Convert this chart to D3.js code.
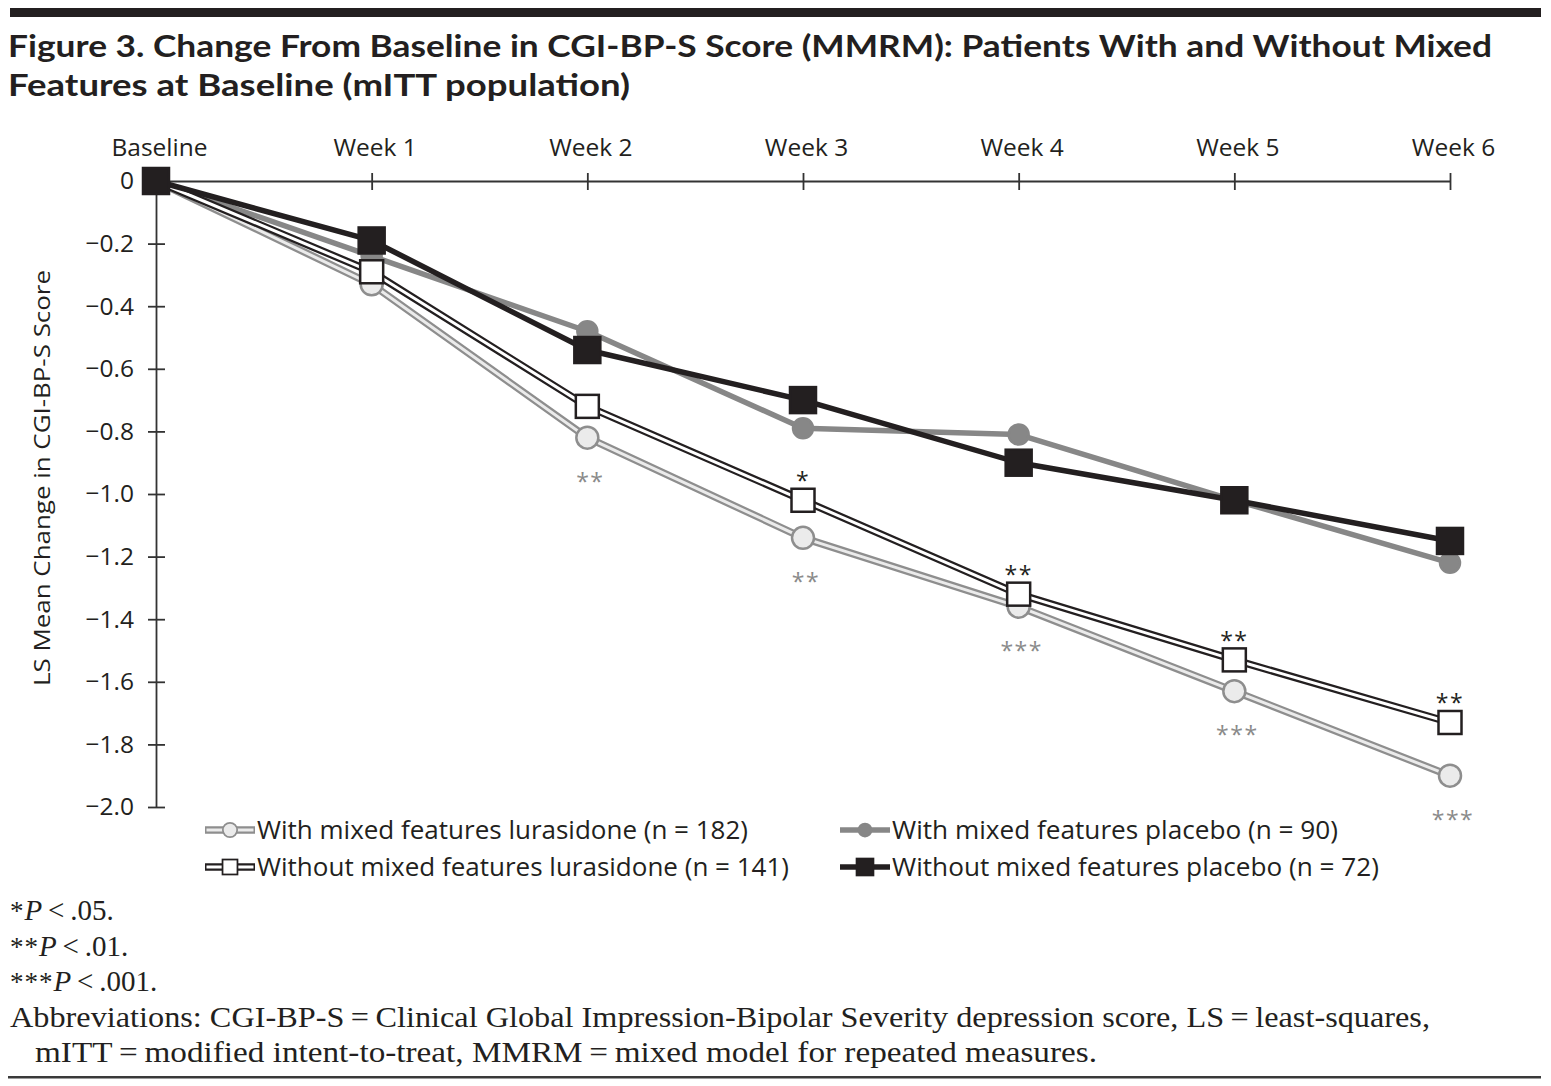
<!DOCTYPE html>
<html>
<head>
<meta charset="utf-8">
<script src="https://cdn.jsdelivr.net/npm/d3@7"></script>
<style>
  html, body { margin: 0; padding: 0; background: #fff; }
  svg { display: block; }
</style>
</head>
<body>
<svg id="chart" width="1551" height="1086"></svg>
<script>
// ---------------- DATA ----------------
const categories = ["Baseline", "Week 1", "Week 2", "Week 3", "Week 4", "Week 5", "Week 6"];
const yTicks = [0, -0.2, -0.4, -0.6, -0.8, -1.0, -1.2, -1.4, -1.6, -1.8, -2.0];

const withMixedLurasidone    = [0, -0.33, -0.82, -1.14, -1.36, -1.63, -1.90];
const withMixedPlacebo       = [0, -0.24, -0.48, -0.79, -0.81, -1.02, -1.22];
const withoutMixedLurasidone = [0, -0.29, -0.72, -1.02, -1.32, -1.53, -1.73];
const withoutMixedPlacebo    = [0, -0.19, -0.54, -0.70, -0.90, -1.02, -1.15];

const withMixedLurasidoneStars    = ["", "", "**", "**", "***", "***", "***"];
const withoutMixedLurasidoneStars = ["", "", "", "*", "**", "**", "**"];

const legendLabels = [
  "With mixed features lurasidone (n = 182)",
  "With mixed features placebo (n = 90)",
  "Without mixed features lurasidone (n = 141)",
  "Without mixed features placebo (n = 72)"
];

const titleLines = [
  "Figure 3. Change From Baseline in CGI-BP-S Score (MMRM): Patients With and Without Mixed",
  "Features at Baseline (mITT population)"
];
const yAxisTitle = "LS Mean Change in CGI-BP-S Score";

// ---------------- SETUP ----------------
const svg = d3.select("#chart");
const SANS = "'Open Sans', 'Noto Sans', sans-serif";
const TITLE = "Lato, 'Open Sans', sans-serif";
const SERIF = "'Liberation Serif', 'DejaVu Serif', serif";

const x = d3.scalePoint().domain(categories).range([156, 1450]);
const y = d3.scaleLinear().domain([0, -2.0]).range([181, 807]);

// Top and bottom rules
svg.append("rect").attr("x", 10).attr("y", 8).attr("width", 1531).attr("height", 9).attr("fill", "#231f20");
svg.append("rect").attr("x", 8).attr("y", 1076).attr("width", 1533).attr("height", 2.5).attr("fill", "#3a3a3a");

// Title
const titleWidths = [1484, 622];
titleLines.forEach((t, i) => {
  svg.append("text")
    .attr("x", 8).attr("y", 57 + i * 38.5)
    .attr("font-family", TITLE).attr("font-weight", 700)
    .attr("font-size", 31).attr("fill", "#231f20")
    .attr("textLength", titleWidths[i]).attr("lengthAdjust", "spacingAndGlyphs")
    .text(t);
});

// ---------------- AXES ----------------
const axisColor = "#333";
const xAxis = svg.append("g").attr("transform", `translate(0,${y(0)})`)
  .call(d3.axisTop(x).tickSize(0).tickPadding(25));
xAxis.select(".domain").attr("stroke", axisColor).attr("stroke-width", 1.8);
xAxis.selectAll(".tick line").remove();
xAxis.selectAll(".tick text").attr("font-family", SANS).attr("font-size", 24.5).attr("fill", "#231f20")
  .attr("dx", 3);
xAxis.selectAll(".tick").filter((d, i) => i > 0).append("line")
  .attr("y1", -8).attr("y2", 9).attr("stroke", axisColor).attr("stroke-width", 1.8);

const yAxis = svg.append("g").attr("transform", `translate(${x(categories[0])},0)`)
  .call(d3.axisLeft(y).tickValues(yTicks).tickSize(0).tickPadding(22)
    .tickFormat(d => d === 0 ? "0" : d3.format(".1f")(d).replace("-", "\u2013")));
yAxis.select(".domain").attr("stroke", axisColor).attr("stroke-width", 1.8);
yAxis.selectAll(".tick text").attr("font-family", SANS).attr("font-size", 24.5).attr("fill", "#231f20");
yAxis.selectAll(".tick").filter(d => d !== 0).append("line")
  .attr("x1", -8).attr("x2", 9).attr("stroke", axisColor).attr("stroke-width", 1.8);

svg.append("text")
  .attr("transform", `translate(50,478) rotate(-90)`)
  .attr("text-anchor", "middle")
  .attr("font-family", SANS).attr("font-size", 22).attr("fill", "#231f20")
  .attr("textLength", 416).attr("lengthAdjust", "spacingAndGlyphs")
  .text(yAxisTitle);

// ---------------- SERIES ----------------
const line = d3.line().x((d, i) => x(categories[i])).y(d => y(d));

const series = [
  { data: withMixedLurasidone, kind: "double", outer: "#8e8e8e", inner: "#ebebeb", marker: "circle", mFill: "#ebebeb", mStroke: "#8e8e8e" },
  { data: withMixedPlacebo, kind: "single", color: "#878787", marker: "circle", mFill: "#878787", mStroke: "#878787" },
  { data: withoutMixedLurasidone, kind: "double", outer: "#231f20", inner: "#ffffff", marker: "square", mFill: "#ffffff", mStroke: "#231f20" },
  { data: withoutMixedPlacebo, kind: "single", color: "#231f20", marker: "square", mFill: "#231f20", mStroke: "#231f20" }
];

function drawMarker(g, s, cx, cy, scale) {
  if (s.marker === "circle") {
    const r = (s.kind === "double" ? 11 : 10) * scale;
    g.append("circle").attr("cx", cx).attr("cy", cy).attr("r", r)
      .attr("fill", s.mFill).attr("stroke", s.mStroke).attr("stroke-width", 2.5 * Math.max(scale, 0.7));
  } else {
    const h = (s.kind === "double" ? 11.5 : 13) * scale;
    g.append("rect").attr("x", cx - h).attr("y", cy - h).attr("width", 2 * h).attr("height", 2 * h)
      .attr("fill", s.mFill).attr("stroke", s.mStroke).attr("stroke-width", 2.5 * Math.max(scale, 0.7));
  }
}

series.forEach(s => {
  const g = svg.append("g");
  if (s.kind === "double") {
    g.append("path").attr("d", line(s.data)).attr("fill", "none")
      .attr("stroke", s.outer).attr("stroke-width", 7.5).attr("stroke-linejoin", "round");
    g.append("path").attr("d", line(s.data)).attr("fill", "none")
      .attr("stroke", s.inner).attr("stroke-width", 3).attr("stroke-linejoin", "round");
  } else {
    g.append("path").attr("d", line(s.data)).attr("fill", "none")
      .attr("stroke", s.color).attr("stroke-width", 5.5).attr("stroke-linejoin", "round");
  }
  s.data.forEach((v, i) => drawMarker(g, s, x(categories[i]), y(v), 1));
});

// Significance stars
withMixedLurasidone.forEach((v, i) => {
  if (!withMixedLurasidoneStars[i]) return;
  svg.append("text").attr("x", x(categories[i]) + 3).attr("y", y(v) + 52)
    .attr("text-anchor", "middle").attr("font-family", SANS).attr("font-size", 23)
    .attr("letter-spacing", 1.5).attr("fill", "#8a8a8a")
    .text(withMixedLurasidoneStars[i]);
});
withoutMixedLurasidone.forEach((v, i) => {
  if (!withoutMixedLurasidoneStars[i]) return;
  svg.append("text").attr("x", x(categories[i])).attr("y", y(v) - 11)
    .attr("text-anchor", "middle").attr("font-family", SANS).attr("font-size", 23)
    .attr("letter-spacing", 1.5).attr("fill", "#231f20")
    .text(withoutMixedLurasidoneStars[i]);
});

// ---------------- LEGEND ----------------
const legendPos = [[205, 830], [840, 830], [205, 867], [840, 867]];
const legendWidths = [491, 446, 532, 487];
series.forEach((s, si) => {
  const [lx, ly] = legendPos[si];
  const g = svg.append("g");
  if (s.kind === "double") {
    g.append("line").attr("x1", lx).attr("x2", lx + 50).attr("y1", ly).attr("y2", ly)
      .attr("stroke", s.outer).attr("stroke-width", 7.5);
    g.append("line").attr("x1", lx + 1.5).attr("x2", lx + 48.5).attr("y1", ly).attr("y2", ly)
      .attr("stroke", s.inner).attr("stroke-width", 3);
  } else {
    g.append("line").attr("x1", lx).attr("x2", lx + 50).attr("y1", ly).attr("y2", ly)
      .attr("stroke", s.color).attr("stroke-width", 5.5);
  }
  drawMarker(g, s, lx + 25, ly, 0.65);
  g.append("text").attr("x", lx + 52).attr("y", ly + 9)
    .attr("font-family", SANS).attr("font-size", 25).attr("fill", "#231f20")
    .attr("textLength", legendWidths[si]).attr("lengthAdjust", "spacingAndGlyphs")
    .text(legendLabels[si]);
});

// ---------------- FOOTNOTES ----------------
const fn = svg.append("g").attr("font-family", SERIF).attr("font-size", 29).attr("fill", "#231f20");
const starNotes = [["*", ".05."], ["**", ".01."], ["***", ".001."]];
starNotes.forEach((n, i) => {
  const t = fn.append("text").attr("x", 10).attr("y", 920 + i * 35.5);
  t.append("tspan").attr("font-size", 27).attr("letter-spacing", 1).text(n[0]);
  t.append("tspan").attr("font-style", "italic").text("P");
  t.append("tspan").text("\u2009<\u2009" + n[1]);
});
fn.append("text").attr("x", 10).attr("y", 1027)
  .attr("textLength", 1420).attr("lengthAdjust", "spacingAndGlyphs")
  .text("Abbreviations: CGI-BP-S\u2009=\u2009Clinical Global Impression-Bipolar Severity depression score, LS\u2009=\u2009least-squares,");
fn.append("text").attr("x", 35).attr("y", 1062)
  .attr("textLength", 1062).attr("lengthAdjust", "spacingAndGlyphs")
  .text("mITT\u2009=\u2009modified intent-to-treat, MMRM\u2009=\u2009mixed model for repeated measures.");
</script>
</body>
</html>
